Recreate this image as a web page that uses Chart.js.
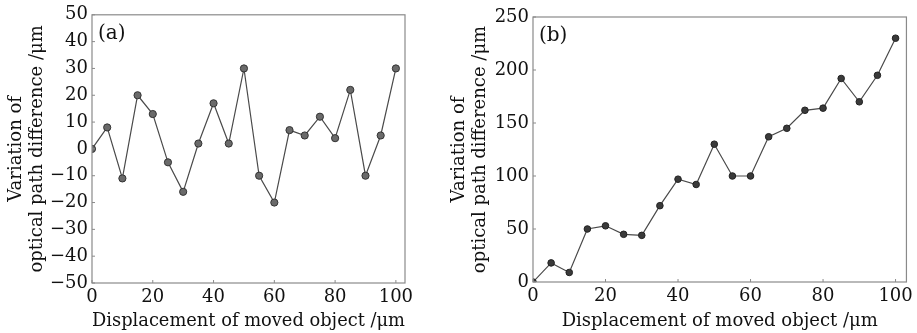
<!DOCTYPE html>
<html>
<head>
<meta charset="utf-8">
<script src="https://cdn.jsdelivr.net/npm/chart.js@4.4.0/dist/chart.umd.min.js"></script>
<style>
  html, body { margin: 0; padding: 0; background: #fff; }
  body { width: 917px; height: 333px; position: relative; overflow: hidden; }
  canvas { position: absolute; top: 0; }
</style>
</head>
<body>
<canvas id="ca" width="420" height="333" style="left:0px"></canvas>
<canvas id="cb" width="477" height="333" style="left:440px"></canvas>
<script>
// ---- data ----
const displacement = [0, 5, 10, 15, 20, 25, 30, 35, 40, 45, 50, 55, 60, 65, 70, 75, 80, 85, 90, 95, 100];
const seriesA = [0, 8, -11, 20, 13, -5, -16, 2, 17, 2, 30, -10, -20, 7, 5, 12, 4, 22, -10, 5, 30];
const seriesB = [0, 18, 9, 50, 53, 45, 44, 72, 97, 92, 130, 100, 100, 137, 145, 162, 164, 192, 170, 195, 230];
const xTicks = [0, 20, 40, 60, 80, 100];
const yTicksA = [-50, -40, -30, -20, -10, 0, 10, 20, 30, 40, 50];
const yTicksB = [0, 50, 100, 150, 200, 250];
const xTitle = 'Displacement of moved object /\u03bcm';
const yTitle = ['Variation of', 'optical path difference /\u03bcm'];
const panelA = '(a)';
const panelB = '(b)';

const FONT = "'DejaVu Serif', serif";
const fontSize = 18;

const framePlugin = {
  id: 'frame',
  afterDraw(chart, args, opts) {
    const ctx = chart.ctx, a = chart.chartArea;
    const xs = chart.scales.x, ys = chart.scales.y;
    ctx.save();
    ctx.strokeStyle = '#8a8a8a';
    ctx.lineWidth = 1.2;
    ctx.strokeRect(a.left, a.top, a.right - a.left, a.bottom - a.top);
    ctx.lineWidth = 1;
    ctx.beginPath();
    xs.ticks.forEach(t => {
      const px = xs.getPixelForValue(t.value);
      ctx.moveTo(px, a.bottom); ctx.lineTo(px, a.bottom - 3);
    });
    ys.ticks.forEach(t => {
      const py = ys.getPixelForValue(t.value);
      ctx.moveTo(a.left, py); ctx.lineTo(a.left + 3, py);
    });
    ctx.stroke();
    ctx.fillStyle = '#111';
    ctx.font = "20px " + FONT;
    ctx.textBaseline = 'middle';
    ctx.textAlign = 'left';
    ctx.fillText(opts.label, a.left + 6, a.top + 19);
    ctx.restore();
  }
};

function makeChart(id, data, yTicks, opt) {
  const tickCb = v => String(v).replace('-', '\u2212');
  return new Chart(document.getElementById(id), {
    type: 'line',
    data: {
      datasets: [{
        data: displacement.map((x, i) => ({ x: x, y: data[i] })),
        borderColor: '#4a4a4a',
        borderWidth: 1.2,
        pointRadius: opt.pr,
        pointBackgroundColor: opt.pfill,
        pointBorderColor: opt.pborder,
        pointBorderWidth: 1,
        tension: 0,
        fill: false
      }]
    },
    options: {
      responsive: false,
      animation: false,
      events: [],
      layout: { padding: { top: opt.top, right: opt.right, left: 0, bottom: 0 } },
      plugins: { legend: { display: false }, tooltip: { enabled: false }, frame: { label: opt.label } },
      scales: {
        x: {
          type: 'linear', min: 0, max: 103,
          grid: { display: false, drawTicks: false },
          border: { display: false },
          afterBuildTicks: s => { s.ticks = xTicks.map(v => ({ value: v })); },
          afterFit: s => { s.height = opt.xh; },
          ticks: { font: { family: FONT, size: fontSize }, color: '#111', padding: 4, maxRotation: 0, callback: tickCb },
          title: { display: true, text: xTitle, font: { family: FONT, size: fontSize }, color: '#111', padding: { top: 0, bottom: 1 } }
        },
        y: {
          type: 'linear', min: yTicks[0], max: yTicks[yTicks.length - 1],
          grid: { display: false, drawTicks: false },
          border: { display: false },
          afterBuildTicks: s => { s.ticks = yTicks.map(v => ({ value: v })); },
          afterFit: s => { s.width = opt.yw; },
          ticks: { font: { family: FONT, size: fontSize }, color: '#111', padding: 4, callback: tickCb },
          title: { display: true, text: yTitle, font: { family: FONT, size: fontSize, lineHeight: 1.15 }, color: '#111', padding: { top: opt.ytp, bottom: 0 } }
        }
      }
    },
    plugins: [framePlugin]
  });
}

makeChart('ca', seriesA, yTicksA, { top: 14, right: 15, xh: 50, yw: 92, ytp: 6, pr: 3.6, pfill: '#6a6a6a', pborder: '#333', label: panelA });
makeChart('cb', seriesB, yTicksB, { top: 17, right: 9, xh: 51, yw: 93, ytp: 9, pr: 3.3, pfill: '#3a3a3a', pborder: '#222', label: panelB });
</script>
</body>
</html>
